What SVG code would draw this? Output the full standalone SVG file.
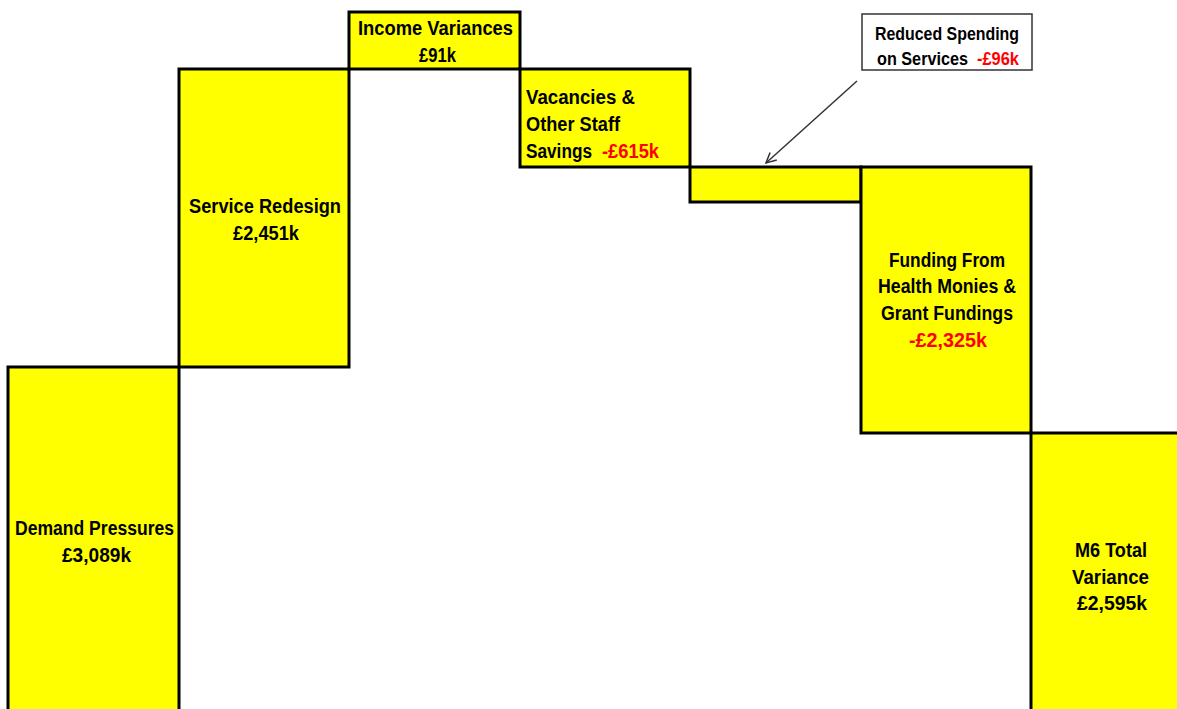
<svg xmlns="http://www.w3.org/2000/svg" width="1177" height="709" viewBox="0 0 1177 709">
<defs>
<style>
.bar{fill:#ffff00;stroke:#000;stroke-width:3}
.t{font-family:"Liberation Sans",Arial,sans-serif;font-weight:bold;font-size:20px;fill:#000}
.r{fill:#ff0000}
.c{font-size:18px}
</style>
<marker id="ah" viewBox="0 0 12 12" refX="11" refY="6" markerWidth="12" markerHeight="12" markerUnits="userSpaceOnUse" orient="auto">
<path d="M1,1 L11,6 L1,11" fill="none" stroke="#333" stroke-width="1.5"/>
</marker>
</defs>
<rect width="1177" height="709" fill="#fff"/>
<g id="demand">
<rect class="bar" x="8" y="367" width="171" height="400"/>
<text class="t" x="15" y="535" textLength="159" lengthAdjust="spacingAndGlyphs">Demand Pressures</text>
<text class="t" x="62" y="562" textLength="69" lengthAdjust="spacingAndGlyphs">£3,089k</text>
</g>
<g id="service">
<rect class="bar" x="179" y="69" width="170" height="298"/>
<text class="t" x="189" y="213" textLength="152" lengthAdjust="spacingAndGlyphs">Service Redesign</text>
<text class="t" x="233" y="240" textLength="66" lengthAdjust="spacingAndGlyphs">£2,451k</text>
</g>
<g id="income">
<rect class="bar" x="349" y="12" width="171" height="57"/>
<text class="t" x="358" y="35" textLength="155" lengthAdjust="spacingAndGlyphs">Income Variances</text>
<text class="t" x="419" y="62" textLength="37" lengthAdjust="spacingAndGlyphs">£91k</text>
</g>
<g id="vacancies">
<rect class="bar" x="520" y="69" width="170" height="98"/>
<text class="t" x="526" y="104" textLength="109" lengthAdjust="spacingAndGlyphs">Vacancies &amp;</text>
<text class="t" x="526" y="131" textLength="94" lengthAdjust="spacingAndGlyphs">Other Staff</text>
<text class="t" x="526" y="158" textLength="66" lengthAdjust="spacingAndGlyphs">Savings</text>
<text class="t r" x="602" y="158" textLength="57" lengthAdjust="spacingAndGlyphs">-£615k</text>
</g>
<g id="reduced">
<rect class="bar" x="690" y="167" width="171" height="35"/>
</g>
<g id="funding">
<rect class="bar" x="861" y="167" width="170" height="266"/>
<text class="t" x="889" y="267" textLength="116" lengthAdjust="spacingAndGlyphs">Funding From</text>
<text class="t" x="878" y="293" textLength="138" lengthAdjust="spacingAndGlyphs">Health Monies &amp;</text>
<text class="t" x="881" y="320" textLength="132" lengthAdjust="spacingAndGlyphs">Grant Fundings</text>
<text class="t r" x="909" y="347" textLength="78" lengthAdjust="spacingAndGlyphs">-£2,325k</text>
</g>
<g id="total">
<rect class="bar" x="1031" y="433" width="170" height="300"/>
<text class="t" x="1075" y="557" textLength="72" lengthAdjust="spacingAndGlyphs">M6 Total</text>
<text class="t" x="1072" y="584" textLength="77" lengthAdjust="spacingAndGlyphs">Variance</text>
<text class="t" x="1077" y="610" textLength="70" lengthAdjust="spacingAndGlyphs">£2,595k</text>
</g>
<g id="callout">
<rect x="862" y="14" width="170" height="56" fill="#fff" stroke="#333" stroke-width="1.5"/>
<text class="t c" x="875" y="40" textLength="144" lengthAdjust="spacingAndGlyphs">Reduced Spending</text>
<text class="t c" x="877" y="65" textLength="91" lengthAdjust="spacingAndGlyphs">on Services</text>
<text class="t c r" x="977" y="65" textLength="42" lengthAdjust="spacingAndGlyphs">-£96k</text>
</g>
<g id="connectors">
<line x1="857" y1="81" x2="766" y2="163" stroke="#333" stroke-width="1.5" marker-end="url(#ah)"/>
</g>
</svg>
